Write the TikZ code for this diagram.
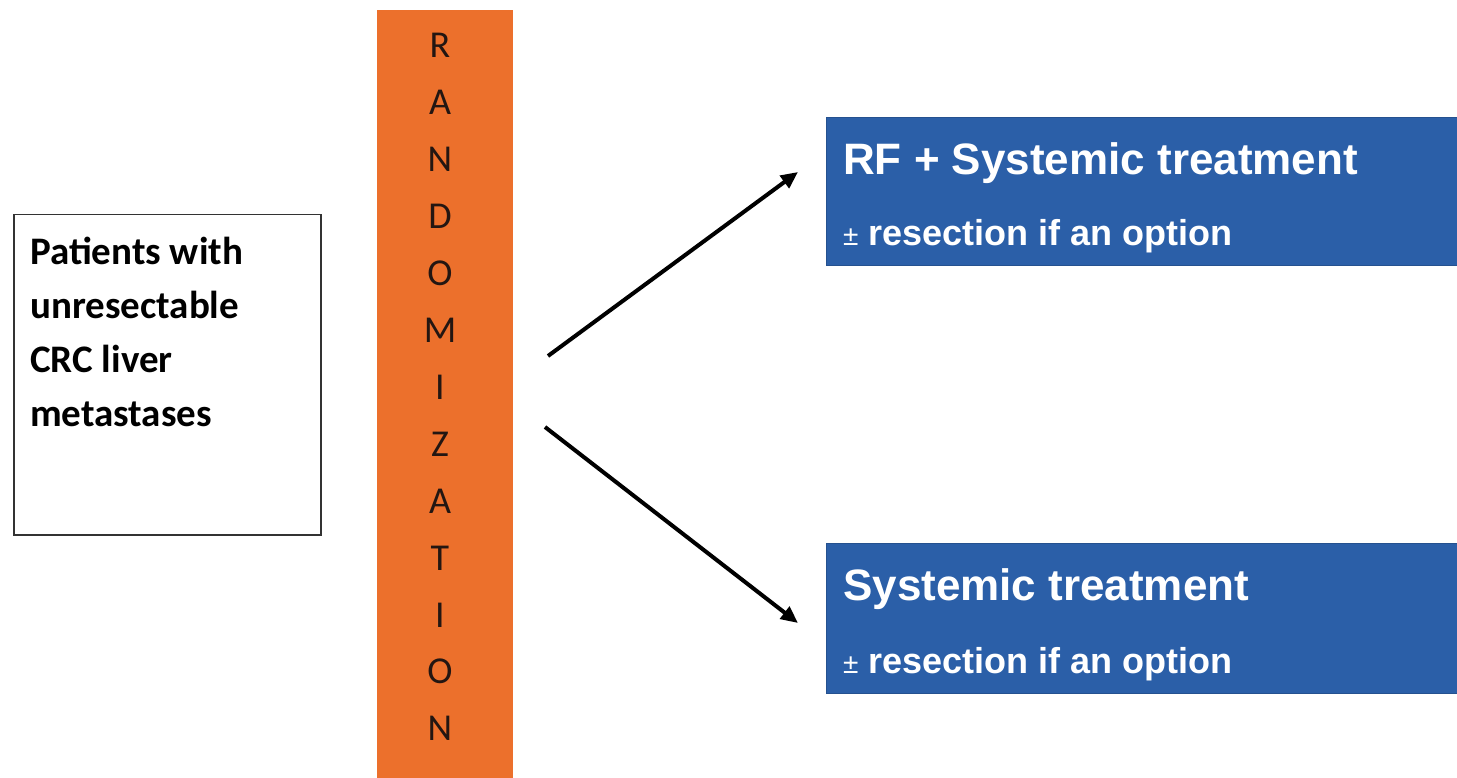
\documentclass[tikz,border=0pt]{standalone}
\usepackage{fontspec}
\setmainfont{Carlito}
\newfontfamily\arialfont{Liberation Sans}
\usetikzlibrary{arrows.meta}
\definecolor{randorange}{RGB}{236,112,44}
\definecolor{armblue}{RGB}{43,95,168}
\definecolor{letterdark}{RGB}{35,22,18}
\begin{document}
\begin{tikzpicture}[x=1pt,y=-1pt,
  inbox/.style={draw=black!80, line width=1.5pt, fill=white, inner sep=0},
  armbox/.style={fill=armblue, draw=armblue!85!black, line width=1pt, inner sep=0},
  armtitle/.style={text=white, font=\arialfont\bfseries\fontsize{44}{50}\selectfont, anchor=base west, inner sep=0},
  armsub/.style={text=white, font=\arialfont\bfseries\fontsize{36}{40}\selectfont, anchor=base west, inner sep=0},
  letter/.style={text=letterdark, font=\fontsize{38}{40}\selectfont, anchor=base, inner sep=0},
  branch/.style={line width=4pt, -{Triangle[length=17pt,width=15pt]}}
]
\useasboundingbox (0,0) rectangle (1457,778);

% population box (text anchored at the baseline of its last line)
\node[inbox, anchor=north west, minimum width=307pt, minimum height=320pt] (patients) at (13,214) {};
\node[anchor=base west, align=left, inner sep=0, font=\bfseries\fontsize{39}{54}\selectfont] (ptext) at (30,426)
  {Patients with\\unresectable\\CRC liver\\metastases};

% randomization bar with stacked letters
\node[fill=randorange, anchor=north west, minimum width=136pt, minimum height=768pt, inner sep=0] (rand) at (377,10) {};
\foreach \ch [count=\i from 0] in {R,A,N,D,O,M,I,Z,A,T,I,O,N}
  \node[letter] (L\i) at (440,{58+56.9*\i}) {\ch};

% treatment arms
\node[armbox, anchor=north west, minimum width=640pt, minimum height=148pt] (armA) at (826,117) {};
\node[armtitle] (armAtitle) at (843,175) {RF + Systemic treatment};
\node[armsub] (armAsub) at (843,246) {{\mdseries\fontsize{28}{30}\selectfont ±} resection if an option};

\node[armbox, anchor=north west, minimum width=640pt, minimum height=150pt] (armB) at (826,543) {};
\node[armtitle] (armBtitle) at (843,600) {Systemic treatment};
\node[armsub] (armBsub) at (843,673) {{\mdseries\fontsize{28}{30}\selectfont ±} resection if an option};

% branching arrows
\coordinate (upstart) at (548,356);
\coordinate (uptip) at (798,172);
\coordinate (downstart) at (545,427);
\coordinate (downtip) at (798,623);
\draw[branch] (upstart) -- (uptip);
\draw[branch] (downstart) -- (downtip);
\end{tikzpicture}
\end{document}
